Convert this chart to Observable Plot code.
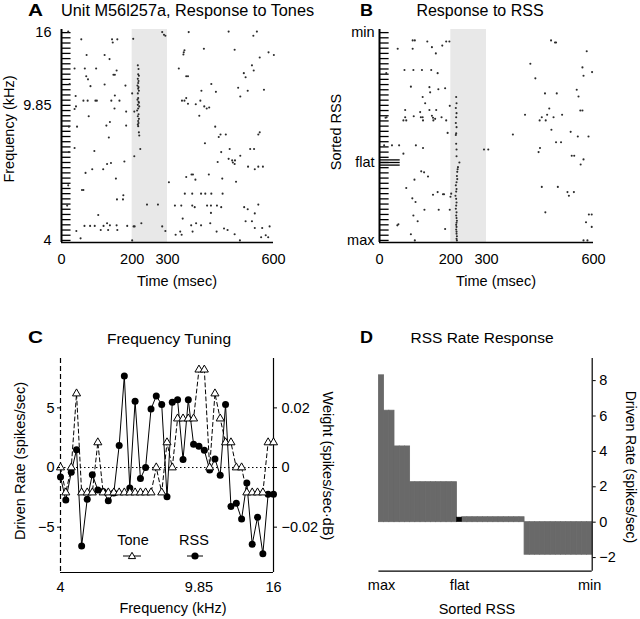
<!DOCTYPE html>
<html>
<head>
<meta charset="utf-8">
<script src="https://cdn.jsdelivr.net/npm/d3@7"></script>
<script src="https://cdn.jsdelivr.net/npm/@observablehq/plot@0.6"></script>
<style>
  body { margin: 0; background: #fff; }
  #fig { position: relative; width: 640px; height: 619px; background: #fff; }
</style>
</head>
<body>
<div id="fig"></div>
<script>
// ---------------- DATA ----------------
const timeTicks = [0, 200, 300, 600];
const stimulusWindow = [200, 300];

// Panel A: rows = tone frequency index (0 = 4 kHz ... 40 = 16 kHz)
const toneTickRows = [0, 26, 40];
const toneTickLabels = ["4", "9.85", "16"];
// Panel B: rows = sorted RSS index (0 = max ... 40 = min)
const rssTickRows = [0, 15, 40];
const rssTickLabels = ["max", "flat", "min"];
const flatRows = [14.5, 15, 15.5];
const trialRows = d3.range(41);

// spikes: [time (ms), row]
const toneSpikes = [
  [19,40.2],[56,38.7],[143,38.7],[145,38.1],[158,38.7],[203,38.8],[285,40.1],[290,39.6],[294,39.4],
  [71,35.7],[122,35.7],[136,34.9],[37,33.1],[66,33.1],[98,33.1],[156,32.7],
  [147,31.9],[151,31.9],[70,31.6],[75,31.0],[23,30.1],[82,29.7],[122,30.0],[181,29.8],
  [40,27.8],[151,27.9],[200,28.3],[62,26.9],[74,26.9],[96,26.9],[100,26.9],[141,26.9],[164,26.9],
  [41,25.8],[37,25.3],[150,25.4],[183,24.8],[77,23.9],[137,22.8],[127,22.1],[183,22.1],[44,21.9],[21,21.9],
  [134,19.8],[37,17.8],[93,17.2],[21,17.0],[178,15.2],[129,14.7],[140,14.9],[87,13.7],[68,13.0],[118,13.7],
  [154,11.9],[58,9.7],[62,9.7],[19,10.6],[175,8.7],[157,7.9],[174,7.9],[16,6.7],
  [104,4.9],[129,3.3],[137,2.9],[156,2.9],[186,2.8],[65,2.8],[81,2.8],[94,2.8],[119,2.8],
  [42,1.8],[111,2.0],[132,2.0],[158,2.0],[54,0.4],[200,0.0],
  [216,33.7],[218,33.0],[217,32.0],[219,31.7],[216,31.1],[218,30.7],[217,30.3],[215,29.8],[218,29.5],[217,29.2],
  [219,28.8],[216,28.3],[217,27.4],[215,27.1],[218,26.7],[219,26.5],[216,26.1],[220,25.8],[217,25.4],[214,25.0],
  [218,24.3],[216,23.9],[219,23.4],[217,23.0],[218,22.6],[216,22.3],[217,22.0],[219,20.8],[220,20.2],
  [206,24.8],[223,17.6],[206,16.2],[242,6.9],[273,6.9],[226,3.3],[204,2.7],[207,2.7],[285,2.7],[294,1.8],[304,11.2],
  [360,40.1],[473,40.2],[553,40.2],[543,39.4],[403,36.9],[490,36.7],[348,36.6],[346,36.2],[345,35.8],[586,36.2],[601,35.7],[561,35.2],
  [332,33.1],[539,33.7],[544,32.7],[516,32.2],[521,31.4],[353,31.6],[358,31.6],[424,30.1],[396,28.8],[437,28.6],
  [500,29.4],[527,28.8],[573,29.0],[506,27.7],[341,26.9],[348,26.9],[353,27.4],[358,26.3],[380,26.2],[393,26.9],
  [404,25.8],[411,25.4],[418,25.6],[390,24.0],[435,21.9],[450,20.4],[445,19.9],[465,20.4],[561,20.8],[557,20.4],
  [406,18.7],[476,17.6],[452,17.0],[534,17.6],[545,17.6],[506,16.3],[473,15.7],[483,15.4],[491,15.4],[485,15.0],
  [490,14.7],[442,15.1],[528,14.2],[547,13.7],[557,14.2],[570,14.2],[368,12.7],[372,12.7],[417,12.7],[353,12.2],
  [379,11.7],[455,11.9],[494,11.3],[349,9.0],[370,9.0],[395,9.0],[407,9.0],[424,9.0],[456,9.0],
  [321,6.7],[339,6.7],[370,6.7],[377,6.4],[412,6.7],[423,6.7],[440,6.7],[452,6.4],[517,6.4],[527,6.0],[557,6.9],
  [423,5.3],[547,5.2],[343,4.2],[521,3.7],[539,3.7],[381,3.3],[421,3.3],[367,2.9],[395,2.9],
  [460,2.3],[470,2.0],[547,2.4],[568,2.4],[589,2.7],[336,1.7],[371,1.7],[439,1.7],[323,1.1],[340,1.1],
  [490,1.2],[578,1.0],[585,0.6],[565,0.6],[505,0.0]
];

const rssSpikes = [
  [93,38.5],[99,38.5],[134,38.3],[147,37.2],[158,36.0],[51,36.9],[93,36.9],[176,37.5],[187,38.3],[196,38.3],
  [70,32.8],[95,32.8],[119,32.8],[145,32.8],[163,32.2],[19,32.2],
  [88,29.6],[140,29.5],[142,28.5],[165,29.1],[184,29.3],[121,27.6],[128,26.4],
  [72,25.1],[140,25.1],[159,25.1],[114,24.7],[197,25.9],
  [96,23.9],[116,23.7],[121,23.7],[147,24.0],[150,23.6],[156,23.4],[174,23.7],[72,23.7],[17,23.6],[20,23.7],
  [67,23.1],[75,23.1],[122,23.1],[151,23.1],[187,23.1],[191,20.7],
  [13,18.3],[35,18.3],[55,18.3],[102,18.3],[122,17.8],[67,16.7],
  [117,13.3],[125,13.1],[136,12.3],[98,11.7],[75,10.1],
  [163,9.3],[150,8.8],[178,8.9],[181,8.9],[92,8.1],[101,7.4],
  [126,5.9],[166,5.9],[95,4.8],[107,3.7],[50,2.9],[53,3.1],[184,2.2],[88,1.2],[99,0.0],
  [197,5.9],[201,9.0],[199,8.4],
  [215,27.6],[216,26.4],[214,25.5],[216,24.5],[215,23.7],[214,22.6],[216,21.8],[215,20.6],[214,20.3],[215,18.6],
  [216,17.5],[216,16.2],[224,15.0],[220,14.1],[219,13.7],[218,13.2],[217,12.4],[218,11.8],[216,11.2],[214,10.6],
  [216,9.9],[215,9.4],[213,8.6],[215,8.0],[216,7.3],[215,6.7],[214,6.1],[216,5.4],[215,4.8],[216,4.3],
  [217,3.8],[216,3.4],[215,3.0],[216,2.6],[215,2.1],[216,1.7],[216,1.3],[217,0.8],[216,0.3],[217,0.0],
  [293,17.5],[305,17.5],[481,38.5],[492,38.1],[495,38.1],[581,36.4],[423,34.0],[569,33.3],[572,31.7],[596,32.4],[437,31.2],
  [464,28.3],[497,28.3],[553,29.0],[558,27.7],[476,25.4],[563,25.0],[569,25.0],
  [408,24.2],[512,24.2],[455,23.7],[470,24.2],[488,23.7],[449,23.1],[466,23.1],
  [482,21.3],[374,20.4],[536,20.9],[556,20.0],[586,20.0],
  [495,18.9],[509,18.9],[450,17.8],[446,17.0],[539,16.3],[546,16.3],[572,15.6],[564,14.6],
  [455,10.3],[500,10.3],[527,9.3],[545,9.3],[531,8.6],[465,5.4],[587,5.0],[595,5.0],[579,3.5],[595,2.6],[572,0.0],[583,0.0]
];

// Panel C: frequency tuning
const freqKHz = [4.00,4.14,4.29,4.44,4.59,4.76,4.92,5.10,5.28,5.46,5.66,5.86,6.06,6.28,6.50,6.73,6.96,7.21,7.46,7.73,
  8.00,8.28,8.57,8.88,9.19,9.51,9.85,10.20,10.56,10.93,11.31,11.71,12.13,12.56,13.00,13.45,13.93,14.42,14.93,15.45,16.00];
const toneRate = [0,-2.1,0,6.2,-2.1,-2.1,-2.1,2.1,-2.1,-2.1,-2.1,-2.1,-2.1,-2.1,-2.1,-2.1,-2.1,-2.1,0,-2.1,
  2.1,0,4.1,4.1,4.1,4.1,8.2,8.2,0,6.2,4.1,2.1,2.1,0,0,-2.1,-2.1,-2.1,-2.1,2.1,2.1];
const rssWeight = [-0.0032,-0.0109,-0.0016,0.0060,-0.0263,-0.0106,-0.0024,-0.0075,-0.0080,-0.0111,
  -0.0085,0.0074,0.0307,-0.0069,0.0222,-0.0037,0.0000,0.0196,0.0240,0.0211,
  -0.0098,0.0219,0.0227,0.0027,0.0227,0.0078,0.0071,0.0058,-0.0008,0.0029,
  -0.0026,0.0211,-0.0131,-0.0120,-0.0173,-0.0052,-0.0257,-0.0167,-0.0289,-0.0090,-0.0090];
const freqTicks = [4, 9.85, 16];
const freqTickLabels = ["4", "9.85", "16"];
const rateTicksC = [-5, 0, 5];
const rateTickLabelsC = ["\u22125", "0", "5"];
const weightTicks = [-0.02, 0, 0.02];
const weightTickLabels = ["\u22120.02", "0", "0.02"];
const weightPerRate = 0.004; // right-axis units per left-axis unit

// Panel D: rate response for each sorted RSS (0 = max ... 40 = min)
const rssRate = [8.3, 6.3, 6.3, 4.28, 4.28, 4.28,
  2.26, 2.26, 2.26, 2.26, 2.26, 2.26, 2.26, 2.26, 2.26,
  0.26,
  0.28, 0.28, 0.28, 0.28, 0.28, 0.28, 0.28, 0.28, 0.28, 0.28, 0.28, 0.28,
  -1.84, -1.84, -1.84, -1.84, -1.84, -1.84, -1.84, -1.84, -1.84, -1.84, -1.84, -1.84, -1.84];
const flatIndex = 15;
const rateTicksD = [-2, 0, 2, 4, 6, 8];

// ---------------- DRAWING ----------------
const FONT = "'Liberation Sans', Arial, Helvetica, sans-serif";
const baseStyle = {fontFamily: FONT, fontSize: "14.5px", color: "#000", background: "transparent", overflow: "visible"};
const fig = document.getElementById("fig");
function place(el, left, top) {
  el.style.position = "absolute";
  el.style.left = left + "px";
  el.style.top = top + "px";
  el.style.maxWidth = "none";
  fig.appendChild(el);
}
const spikeDot = {r: 1.05, fill: "#2b2b2b", stroke: "none"};
const fmtMinus = d => d < 0 ? "\u2212" + (-d) : String(d);

// Panel A
place(Plot.plot({
  width: 320, height: 300,
  marginLeft: 61, marginRight: 47, marginTop: 29, marginBottom: 58,
  style: baseStyle,
  x: {domain: [0, 600], label: null, axis: null},
  y: {domain: [-0.4, 40.6], label: null, axis: null},
  marks: [
    Plot.rect([stimulusWindow], {x1: d => d[0], x2: d => d[1], fill: "#e8e8e8"}),
    Plot.ruleY(trialRows, {x1: 0, x2: 27, stroke: "#000", strokeWidth: 1.3}),
    Plot.ruleX([0], {stroke: "#000", strokeWidth: 2}),
    Plot.ruleY([-0.4], {stroke: "#000", strokeWidth: 1.5}),
    Plot.dot(toneSpikes, {x: d => d[0], y: d => d[1], ...spikeDot}),
    Plot.axisX({ticks: timeTicks, tickSize: 0, tickPadding: 11, label: null}),
    Plot.axisY({ticks: toneTickRows, tickFormat: d => toneTickLabels[toneTickRows.indexOf(d)], tickSize: 0, tickPadding: 10, label: null})
  ]
}), 0, 0);

// Panel B
place(Plot.plot({
  width: 320, height: 300,
  marginLeft: 59, marginRight: 47, marginTop: 29, marginBottom: 58,
  style: baseStyle,
  x: {domain: [0, 600], label: null, axis: null},
  y: {domain: [-0.4, 40.6], label: null, axis: null},
  marks: [
    Plot.rect([stimulusWindow], {x1: d => d[0], x2: d => d[1], fill: "#e8e8e8"}),
    Plot.ruleY(trialRows, {x1: 0, x2: 27, stroke: "#000", strokeWidth: 1.3}),
    Plot.ruleY(flatRows, {x1: 0, x2: 58, stroke: "#000", strokeWidth: 1.3}),
    Plot.ruleX([0], {stroke: "#000", strokeWidth: 2}),
    Plot.ruleY([-0.4], {stroke: "#000", strokeWidth: 1.5}),
    Plot.dot(rssSpikes, {x: d => d[0], y: d => d[1], ...spikeDot}),
    Plot.axisX({ticks: timeTicks, tickSize: 0, tickPadding: 11, label: null}),
    Plot.axisY({ticks: rssTickRows, tickFormat: d => rssTickLabels[rssTickRows.indexOf(d)], tickSize: 0, tickPadding: 5, label: null})
  ]
}), 320, 0);

// Panel C
const idx = d3.range(freqKHz.length);
place(Plot.plot({
  width: 320, height: 319,
  marginLeft: 60, marginRight: 47, marginTop: 58, marginBottom: 47,
  style: baseStyle,
  x: {type: "log", domain: [4, 16], label: null, axis: null},
  y: {domain: [-8.8, 9.14], label: null, axis: null},
  marks: [
    Plot.ruleY([0], {stroke: "#000", strokeWidth: 1, strokeDasharray: "1.5,2.5"}),
    Plot.ruleX([4], {stroke: "#000", strokeWidth: 1.2, strokeDasharray: "5,3"}),
    Plot.ruleX([16], {stroke: "#000", strokeWidth: 1.2}),
    Plot.ruleY([-8.8], {stroke: "#000", strokeWidth: 1.2}),
    Plot.line(idx, {x: i => freqKHz[i], y: i => toneRate[i], stroke: "#000", strokeWidth: 1, strokeDasharray: "4,3"}),
    Plot.line(idx, {x: i => freqKHz[i], y: i => rssWeight[i] / weightPerRate, stroke: "#000", strokeWidth: 1}),
    Plot.dot(idx, {x: i => freqKHz[i], y: i => rssWeight[i] / weightPerRate, r: 3.5, fill: "#000", stroke: "none"}),
    Plot.dot(idx, {x: i => freqKHz[i], y: i => toneRate[i], symbol: "triangle", r: 3, fill: "#fff", stroke: "#000", strokeWidth: 1}),
    Plot.axisX({ticks: freqTicks, tickFormat: d => freqTickLabels[freqTicks.indexOf(d)], tickSize: 0, tickPadding: 9, label: null}),
    Plot.axisY({ticks: rateTicksC, anchor: "left", tickFormat: d => rateTickLabelsC[rateTicksC.indexOf(d)], tickSize: 3, tickPadding: 3, label: null}),
    Plot.axisY({ticks: weightTicks.map(w => w / weightPerRate), anchor: "right",
      tickFormat: (d, i) => weightTickLabels[i], tickSize: 3, tickPadding: 5, label: null})
  ]
}), 0, 300);

// Panel D
const dBars = rssRate.map((v, i) => ({i, v}));
place(Plot.plot({
  width: 320, height: 319,
  marginLeft: 58.4, marginRight: 48.3, marginTop: 58, marginBottom: 48.3,
  style: baseStyle,
  x: {domain: [-0.5, 40.5], label: null, axis: null},
  y: {domain: [-2.77, 9.25], label: null, axis: null},
  marks: [
    Plot.rect(dBars.filter(d => d.i !== flatIndex), {x1: d => d.i - 0.5, x2: d => d.i + 0.5, y1: 0, y2: d => d.v,
      fill: "#696969", stroke: "#696969", strokeWidth: 0.8}),
    Plot.rect(dBars.filter(d => d.i === flatIndex), {x1: d => d.i - 0.5, x2: d => d.i + 0.5, y1: 0, y2: d => d.v,
      fill: "#000", stroke: "#000", strokeWidth: 0.5}),
    Plot.ruleX([40.5], {stroke: "#000", strokeWidth: 1.2}),
    Plot.ruleY([-2.77], {stroke: "#000", strokeWidth: 1.2}),
    Plot.axisX({ticks: rssTickRows, tickFormat: d => rssTickLabels[rssTickRows.indexOf(d)], tickSize: 0, tickPadding: 9, label: null}),
    Plot.axisY({ticks: rateTicksD, anchor: "right", tickFormat: fmtMinus, tickSize: 3, tickPadding: 4, label: null})
  ]
}), 320, 300);

// ---------------- TEXT OVERLAY ----------------
const ov = d3.select("#fig").append("svg")
  .attr("width", 640).attr("height", 619)
  .style("position", "absolute").style("left", "0px").style("top", "0px")
  .style("pointer-events", "none")
  .attr("font-family", FONT).attr("fill", "#000");
function txt(x, y, s, o = {}) {
  const size = o.size || 14.5;
  const t = ov.append("text").attr("font-size", size)
    .attr("text-anchor", o.anchor || "middle")
    .attr("font-weight", o.weight || "normal").text(s);
  if (o.rotate) t.attr("transform", `translate(${x},${y}) rotate(${o.rotate})`);
  else t.attr("x", x).attr("y", y);
  if (o.len) t.attr("textLength", o.len).attr("lengthAdjust", "spacingAndGlyphs");
}
txt(28, 16, "A", {size: 16, anchor: "start", weight: "bold", len: 15});
txt(61, 15.7, "Unit M56l257a, Response to Tones", {size: 16.3, anchor: "start"});
txt(360, 16, "B", {size: 16, anchor: "start", weight: "bold", len: 13});
txt(480, 15.7, "Response to RSS", {size: 16});
txt(177, 286, "Time (msec)");
txt(496, 286, "Time (msec)");
txt(13.5, 129, "Frequency (kHz)", {rotate: -90});
txt(341, 132, "Sorted RSS", {rotate: -90});

txt(28, 343, "C", {size: 16, anchor: "start", weight: "bold", len: 15});
txt(169, 344, "Frequency Tuning", {size: 15.5});
txt(25, 461, "Driven Rate (spikes/sec)", {rotate: -90});
txt(322.5, 466, "Weight (spikes/sec\u00b7dB)", {rotate: 90});
txt(173, 613, "Frequency (kHz)");
txt(133, 545, "Tone");
txt(194, 545, "RSS");
ov.append("line").attr("x1", 123).attr("x2", 141).attr("y1", 556).attr("y2", 556).attr("stroke", "#000");
ov.append("path").attr("d", "M132,552.3L135.6,558.6L128.4,558.6Z").attr("fill", "#fff").attr("stroke", "#000");
ov.append("line").attr("x1", 187).attr("x2", 203).attr("y1", 556).attr("y2", 556).attr("stroke", "#000");
ov.append("circle").attr("cx", 195).attr("cy", 556).attr("r", 3.6).attr("fill", "#000");

txt(360, 343, "D", {size: 16, anchor: "start", weight: "bold", len: 13});
txt(482, 343, "RSS Rate Response", {size: 15.5});
txt(625.5, 467, "Driven Rate (spikes/sec)", {size: 14, rotate: 90});
txt(477, 614, "Sorted RSS");
</script>
</body>
</html>
